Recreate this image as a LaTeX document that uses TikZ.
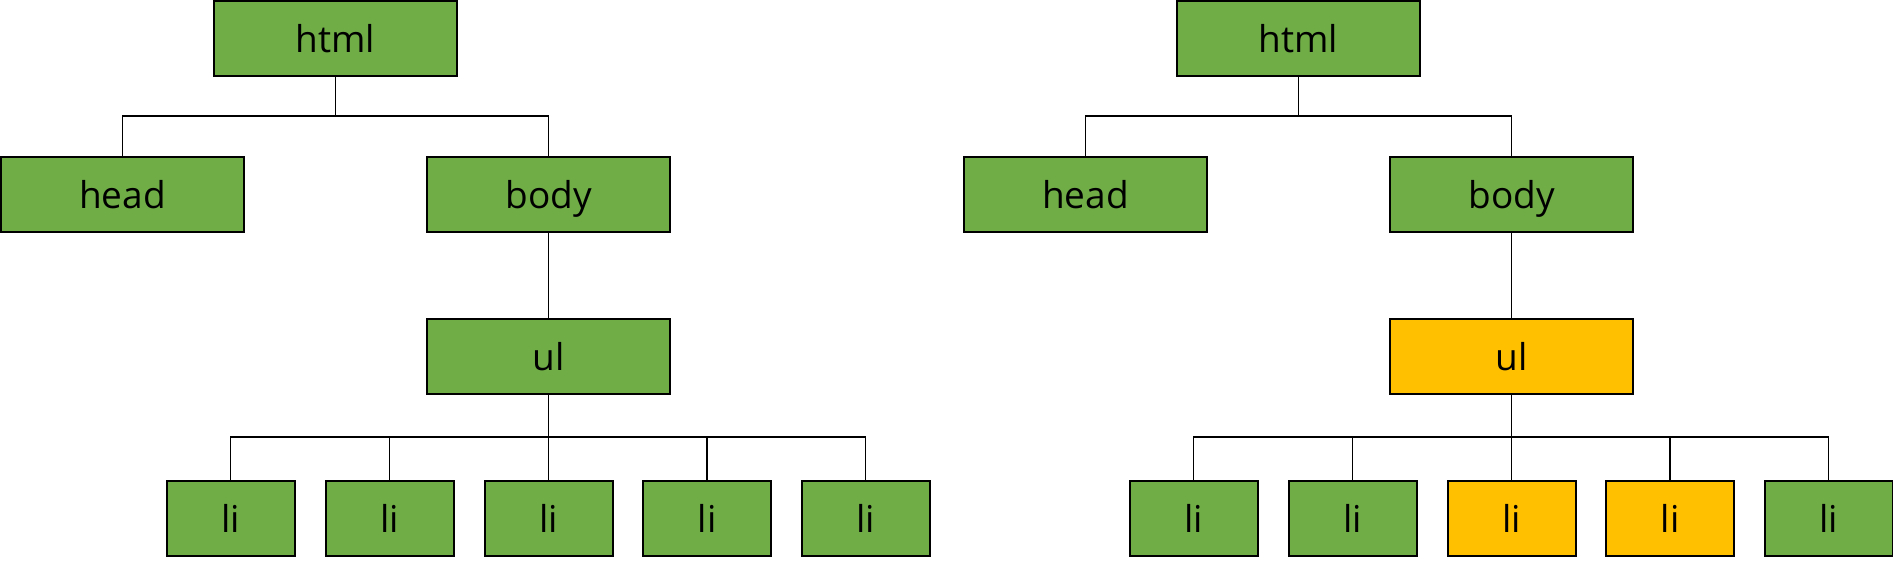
\documentclass[tikz,border=0pt]{standalone}
\usepackage{fontspec}
\setmainfont{Open Sans}
\definecolor{leafgreen}{HTML}{70AD47}
\definecolor{hlorange}{HTML}{FFC000}
\tikzset{
  x=0.5pt, y=-0.5pt,
  bigbox/.style={draw=black, line width=1pt, fill=leafgreen, minimum width=121.5pt, minimum height=37.5pt, inner sep=0pt, text height=15pt, text depth=1.5pt, font=\fontsize{18.5}{20}\selectfont},
  libox/.style={bigbox, minimum width=64pt},
  conn/.style={draw=black, line width=0.8pt}
}
\newcommand{\domtree}[5]{%
  \begin{scope}[xshift=#2*0.5pt]
  \node[bigbox] (#1html) at (335.5,38.5) {html};
  \node[bigbox] (#1head) at (122.5,194.5) {head};
  \node[bigbox] (#1body) at (548.5,194.5) {body};
  \node[bigbox, fill=#3] (#1ul) at (548.5,356.5) {ul};
  \node[libox] (#1lia) at (230.5,518.5) {li};
  \node[libox] (#1lib) at (389.5,518.5) {li};
  \node[libox, fill=#4] (#1lic) at (548.5,518.5) {li};
  \node[libox, fill=#5] (#1lid) at (707,518.5) {li};
  \node[libox] (#1lie) at (865.5,518.5) {li};
  \coordinate (#1bara) at (335.5,116);
  \coordinate (#1barb) at (548.5,437);
  \end{scope}
  \draw[conn] (#1html.south) -- (#1bara) -| (#1head.north);
  \draw[conn] (#1bara) -| (#1body.north);
  \draw[conn] (#1body.south) -- (#1ul.north);
  \draw[conn] (#1ul.south) -- (#1barb);
  \foreach \c in {lia,lib,lic,lid,lie}{\draw[conn] (#1barb) -| (#1\c.north);}
}
\begin{document}
\begin{tikzpicture}
\useasboundingbox (0,0) rectangle (1893,564);
\domtree{L}{0}{leafgreen}{leafgreen}{leafgreen}
\domtree{R}{963}{hlorange}{hlorange}{hlorange}
\end{tikzpicture}
\end{document}
